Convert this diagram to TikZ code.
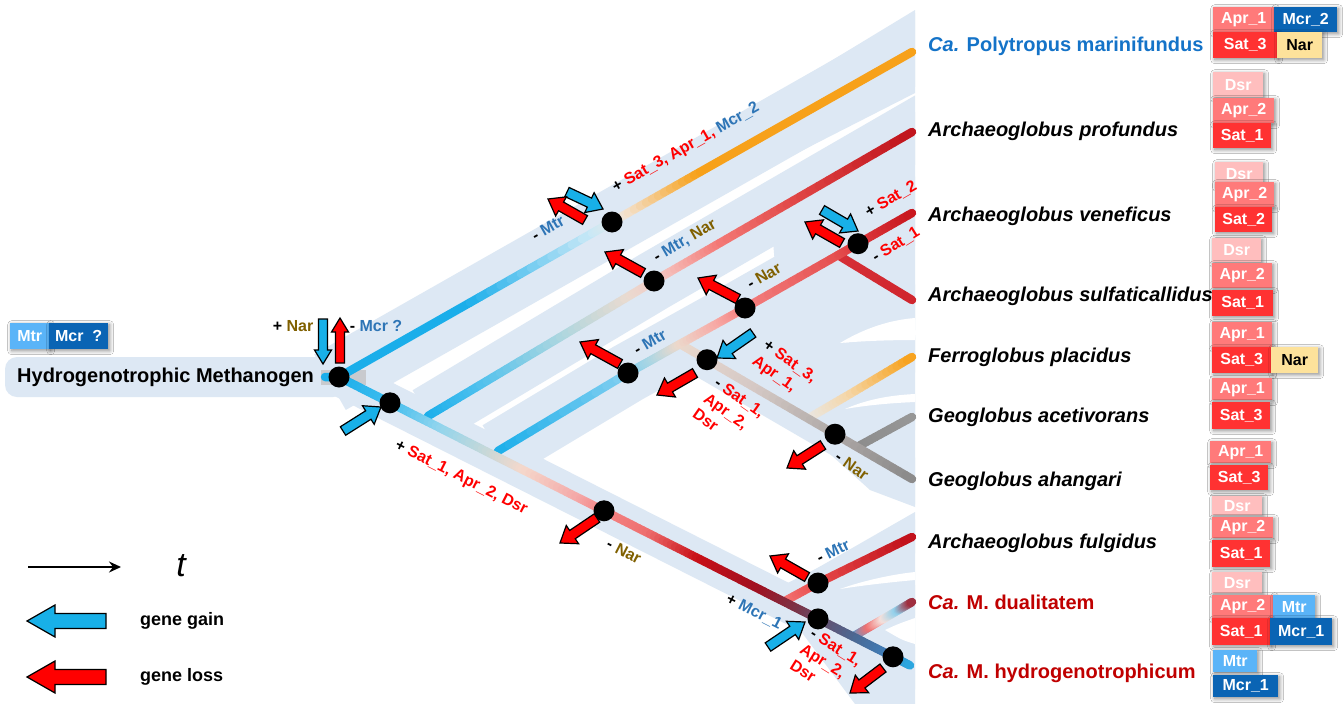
\documentclass[tikz,border=0pt]{standalone}
\usepackage{fontspec}
\setmainfont{Liberation Sans}
\usetikzlibrary{calc,arrows.meta,shadows.blur}

\definecolor{bandc}{RGB}{221,232,244}
\definecolor{cblue}{RGB}{26,174,234}
\definecolor{pB}{RGB}{200,232,246}
\definecolor{pN}{RGB}{222,232,236}
\definecolor{pC}{RGB}{243,226,208}
\definecolor{orng}{RGB}{247,161,26}
\definecolor{qB}{RGB}{76,192,238}
\definecolor{qC}{RGB}{169,214,224}
\definecolor{qD}{RGB}{234,219,208}
\definecolor{qN}{RGB}{240,205,200}
\definecolor{qE}{RGB}{245,190,186}
\definecolor{qF}{RGB}{244,123,120}
\definecolor{qG}{RGB}{224,69,69}
\definecolor{dredE}{RGB}{192,20,28}
\definecolor{vB}{RGB}{128,206,240}
\definecolor{vC}{RGB}{170,214,228}
\definecolor{vD}{RGB}{236,217,204}
\definecolor{vE}{RGB}{247,168,164}
\definecolor{vF}{RGB}{244,128,128}
\definecolor{vG}{RGB}{229,80,80}
\definecolor{vH}{RGB}{222,60,64}
\definecolor{vI}{RGB}{200,22,30}
\definecolor{sA}{RGB}{214,48,56}
\definecolor{sB}{RGB}{208,38,46}
\definecolor{gB}{RGB}{226,212,204}
\definecolor{gC}{RGB}{212,200,196}
\definecolor{gD}{RGB}{176,170,168}
\definecolor{gE}{RGB}{138,138,138}
\definecolor{fA}{RGB}{232,232,232}
\definecolor{fB}{RGB}{245,215,170}
\definecolor{aA}{RGB}{140,140,140}
\definecolor{aB}{RGB}{150,150,150}
\definecolor{mB}{RGB}{60,188,238}
\definecolor{mC}{RGB}{142,212,238}
\definecolor{mD}{RGB}{200,216,216}
\definecolor{mE}{RGB}{245,216,204}
\definecolor{mF}{RGB}{244,168,168}
\definecolor{mG}{RGB}{244,134,134}
\definecolor{mH}{RGB}{238,110,110}
\definecolor{mI}{RGB}{200,16,24}
\definecolor{mJ}{RGB}{160,16,32}
\definecolor{mK}{RGB}{122,52,72}
\definecolor{mL}{RGB}{106,74,102}
\definecolor{mM}{RGB}{74,106,150}
\definecolor{mN}{RGB}{61,128,189}
\definecolor{mO}{RGB}{42,168,224}
\definecolor{uA}{RGB}{245,120,120}
\definecolor{uB}{RGB}{232,76,76}
\definecolor{uC}{RGB}{192,16,26}
\definecolor{dA}{RGB}{70,160,220}
\definecolor{dB}{RGB}{240,112,112}
\definecolor{dC}{RGB}{245,225,220}
\definecolor{dD}{RGB}{144,208,236}
\definecolor{dE}{RGB}{160,40,56}
\definecolor{txtblue}{RGB}{46,117,182}
\definecolor{txtred}{RGB}{255,0,0}
\definecolor{nar}{RGB}{128,96,0}
\definecolor{spblue}{RGB}{20,115,200}
\definecolor{spred}{RGB}{192,0,0}
\definecolor{arrblue}{RGB}{24,176,232}
\definecolor{arrred}{RGB}{255,0,0}
\definecolor{bapr}{RGB}{255,122,122}
\definecolor{bsat}{RGB}{255,50,50}
\definecolor{bdsr}{RGB}{255,190,190}
\definecolor{bmtr}{RGB}{90,180,248}
\definecolor{bmcr}{RGB}{10,100,180}
\definecolor{bnar}{RGB}{253,226,155}
\definecolor{rootgray}{RGB}{200,202,206}

\newcommand{\gseg}[4]{%
  \foreach \k in {0,...,11}{%
    \pgfmathsetmacro{\pa}{\k/12}%
    \pgfmathsetmacro{\pb}{(\k+1)/12}%
    \pgfmathtruncatemacro{\pc}{100-(\k+0.5)*100/12}%
    \draw[branch, draw={#3!\pc!#4}] ($(#1)!\pa!(#2)$) -- ($(#1)!\pb!(#2)$);
  }}

\newcommand{\blockarr}[8]{%
  \pgfmathsetmacro{\bdx}{#3-(#1)}%
  \pgfmathsetmacro{\bdy}{#4-(#2)}%
  \pgfmathsetmacro{\bang}{atan2(-(\bdy),\bdx)}%
  \pgfmathsetmacro{\blen}{veclen(\bdx,\bdy)}%
  \pgfmathsetmacro{\bneck}{\blen-#8}%
  \begin{scope}[shift={(#1,#2)}, rotate=\bang]
    \draw[arr, fill=#5] (0,-#6) -- (\bneck,-#6) -- (\bneck,-#7) -- (\blen,0) -- (\bneck,#7) -- (\bneck,#6) -- (0,#6) -- cycle;
  \end{scope}}

\newcommand{\gbx}[8]{\node[gb, fill=#6, text=#8, minimum width=#4pt, minimum height=#5pt] (#1) at (#2,#3) {#7};}

\begin{document}
\begin{tikzpicture}[x=1pt,y=-1pt,
  bandl/.style={draw=bandc, line cap=butt, line join=round},
  branch/.style={line width=8.5pt, line cap=round},
  dot/.style={circle, fill=black, minimum size=21pt, inner sep=0pt},
  lab/.style={font=\bfseries\fontsize{16}{19}\selectfont, inner sep=0pt, align=left},
  spec/.style={font=\bfseries\fontsize{20}{24}\selectfont, anchor=west, inner sep=0pt},
  specit/.style={spec, font=\bfseries\itshape\fontsize{20}{24}\selectfont},
  gb/.style={font=\bfseries\fontsize{16}{18}\selectfont, inner sep=0pt, anchor=north west,
     blur shadow={shadow blur steps=6, shadow xshift=1.5pt, shadow yshift=-1.5pt, shadow blur radius=4pt, shadow opacity=45}},
  arr/.style={draw=black, line width=1.2pt, line join=miter},
  legtxt/.style={font=\bfseries\fontsize{18}{20}\selectfont, anchor=west, inner sep=0pt},
]
\fill[white] (0,0) rectangle (1344,704);
\useasboundingbox (0,0) rectangle (1344,704);

% ---------- coordinates ----------
\coordinate (RS) at (325,377);
\coordinate (R) at (339,377);
\coordinate (P0) at (330,382.1);
\coordinate (P1) at (470,302.6);
\coordinate (P2) at (592,233.3);
\coordinate (NP) at (612,222);
\coordinate (P3) at (628,212.9);
\coordinate (P4) at (700,172);
\coordinate (EP) at (912,52);
\coordinate (Q0) at (428,416);
\coordinate (Q1) at (480,385);
\coordinate (Q2) at (560,337.2);
\coordinate (Q3) at (630,295.4);
\coordinate (NQ) at (654,281);
\coordinate (Q4) at (670,271.8);
\coordinate (Q5) at (720,242.9);
\coordinate (Q6) at (800,196.7);
\coordinate (EQ) at (912,132);
\coordinate (V0) at (498,451);
\coordinate (NV1) at (628,373);
\coordinate (V1) at (652,359.7);
\coordinate (J1) at (680,344);
\coordinate (V2) at (720,321.9);
\coordinate (NV2) at (745,308);
\coordinate (J2) at (838,255.1);
\coordinate (NV3) at (858,243.7);
\coordinate (EV) at (912,213);
\coordinate (ES) at (912,300);
\coordinate (NG1) at (707,359.7);
\coordinate (G1) at (760,390.6);
\coordinate (J3) at (808,418.5);
\coordinate (NG2) at (835,434.2);
\coordinate (J4) at (857,447);
\coordinate (EG) at (912,479);
\coordinate (F1) at (850,394);
\coordinate (EF) at (912,357);
\coordinate (EA) at (912,417);
\coordinate (N1) at (390,402.8);
\coordinate (M1) at (440,428.0);
\coordinate (M2) at (490,453.3);
\coordinate (M3) at (525,470.9);
\coordinate (M4) at (580,498.7);
\coordinate (NL1) at (604,510.8);
\coordinate (M5) at (650,534.1);
\coordinate (M6) at (700,559.3);
\coordinate (M7) at (760,589.6);
\coordinate (M8) at (800,609.8);
\coordinate (NM) at (818,618.9);
\coordinate (M9) at (860,640.1);
\coordinate (NH) at (893,656.8);
\coordinate (EL) at (910,665.4);
\coordinate (U0) at (785,601);
\coordinate (NF) at (818,583);
\coordinate (EU) at (912,537);
\coordinate (D0) at (853,636.6);
\coordinate (D1) at (870,626.7);
\coordinate (D2) at (884,618.5);
\coordinate (D3) at (898,610.3);
\coordinate (ED) at (912,602);
\coordinate (XP) at (1000,1.7);
\coordinate (XQ) at (1000,81);
\coordinate (XV) at (1000,163);
\coordinate (XL) at (1000,710.8);
\coordinate (XG) at (1000,530.2);
\coordinate (XS) at (1000,353.4);
\coordinate (XF) at (1000,305);
\coordinate (XA) at (1000,369);
\coordinate (XU) at (1000,494);
\coordinate (XD) at (1000,550.5);

% ---------- pale bands ----------
\begin{scope}
\clip (0,0) rectangle (915,704);
\fill[bandc, rounded corners=12pt] (5,357) rectangle (345,397);
\draw[bandl, line width=64pt] (P0) -- (XP);
\draw[bandl, line width=38pt] (R) -- (XL);
\draw[bandl, line width=60pt] (Q0) -- (NQ) -- (XQ);
\draw[bandl, line width=60pt] (V0) -- (NV1) -- (NV2) -- (XV);
\draw[bandl, line width=40pt] (J1) -- (XG);
\draw[bandl, line width=30pt] (J2) -- (XS);
\draw[bandl, line width=30pt] (J3) -- (XF);
\draw[bandl, line width=26pt] (J4) -- (XA);
\draw[bandl, line width=30pt] (U0) -- (XU);
\draw[bandl, line width=26pt] (D0) -- (XD);
\fill[bandc] (760,104) -- (915,10) -- (915,93) -- (760,172) -- cycle;
\fill[bandc] (770,205) -- (915,112) -- (915,330) -- (842,343) -- (780,325) -- cycle;
\fill[bandc] (J1) -- (833,258) -- (842,343) -- (J3) -- cycle;
\fill[bandc] (795,415) -- (842,343) -- (915,335) -- (915,507) -- (870,490) -- (820,445) -- cycle;
\fill[bandc] (800,578) -- (915,512) -- (915,704) -- (855,704) -- (800,630) -- cycle;
\fill[white] (840,343) .. controls (865,328) and (890,320) .. (915,318) -- (915,340) .. controls (890,340) and (862,341) .. (840,343) -- cycle;
\fill[white] (845,409) .. controls (870,398) and (895,395) .. (915,394) -- (915,402) .. controls (892,403) and (868,405) .. (845,409) -- cycle;
\fill[white] (840,589) .. controls (865,580) and (895,574) .. (915,572) -- (915,580) .. controls (893,582) and (865,585) .. (840,589) -- cycle;
\fill[white] (885,630) .. controls (898,624) .. (915,618) -- (915,644) .. controls (902,640) .. (885,630) -- cycle;
\end{scope}
\fill[rootgray] (321,370) rectangle (366,385);

% ---------- branches ----------
\gseg{J3}{F1}{fA}{fB}
\gseg{F1}{EF}{fB}{orng}
\gseg{J4}{EA}{aA}{aB}
\gseg{J1}{NG1}{vD}{gB}
\gseg{NG1}{G1}{gB}{gC}
\gseg{G1}{NG2}{gC}{gD}
\gseg{NG2}{EG}{gD}{gE}
\gseg{J2}{ES}{sA}{sB}
\gseg{V0}{NV1}{cblue}{vB}
\gseg{NV1}{V1}{vB}{vC}
\gseg{V1}{J1}{vC}{vD}
\gseg{J1}{V2}{vD}{vE}
\gseg{V2}{NV2}{vE}{vF}
\gseg{NV2}{J2}{vF}{vG}
\gseg{J2}{NV3}{vG}{vH}
\gseg{NV3}{EV}{vH}{vI}
\gseg{Q0}{Q1}{cblue}{qB}
\gseg{Q1}{Q2}{qB}{qC}
\gseg{Q2}{Q3}{qC}{qD}
\gseg{Q3}{NQ}{qD}{qN}
\gseg{NQ}{Q4}{qN}{qE}
\gseg{Q4}{Q5}{qE}{qF}
\gseg{Q5}{Q6}{qF}{qG}
\gseg{Q6}{EQ}{qG}{dredE}
\gseg{U0}{NF}{uA}{uB}
\gseg{NF}{EU}{uB}{uC}
\gseg{D0}{D1}{dA}{dB}
\gseg{D1}{D2}{dB}{dC}
\gseg{D2}{D3}{dC}{dD}
\gseg{D3}{ED}{dD}{dE}
\draw[branch, cblue] (RS) -- (R) -- (P1);
\gseg{P1}{P2}{cblue}{pB}
\gseg{P2}{NP}{pB}{pN}
\gseg{NP}{P3}{pN}{pC}
\gseg{P3}{P4}{pC}{orng}
\draw[branch, orng] (P4) -- (EP);
\gseg{R}{N1}{cblue}{mB}
\gseg{N1}{M1}{mB}{mC}
\gseg{M1}{M2}{mC}{mD}
\gseg{M2}{M3}{mD}{mE}
\gseg{M3}{M4}{mE}{mF}
\gseg{M4}{NL1}{mF}{mG}
\gseg{NL1}{M5}{mG}{mH}
\gseg{M5}{M6}{mH}{mI}
\gseg{M6}{M7}{mI}{mJ}
\gseg{M7}{M8}{mJ}{mK}
\gseg{M8}{NM}{mK}{mL}
\gseg{NM}{M9}{mL}{mM}
\gseg{M9}{NH}{mM}{mN}
\gseg{NH}{EL}{mN}{mO}

% ---------- event nodes ----------
\node[dot] (nR) at (R) {};
\node[dot] (nN1) at (N1) {};
\node[dot] (nNP) at (NP) {};
\node[dot] (nNQ) at (NQ) {};
\node[dot] (nNV1) at (NV1) {};
\node[dot] (nNV2) at (NV2) {};
\node[dot] (nNV3) at (NV3) {};
\node[dot] (nNG1) at (NG1) {};
\node[dot] (nNG2) at (NG2) {};
\node[dot] (nNL1) at (NL1) {};
\node[dot] (nNF) at (NF) {};
\node[dot] (nNM) at (NM) {};
\node[dot] (nNH) at (NH) {};

% ---------- gain / loss arrows ----------
\blockarr{323}{319}{323}{364}{arrblue}{4.5}{8.5}{14}
\blockarr{340}{363}{340}{318}{arrred}{4.5}{8.5}{14}
\blockarr{343}{431}{381}{407}{arrblue}{5}{11}{15}
\blockarr{567}{192}{603}{209}{arrblue}{5}{11}{15}
\blockarr{585}{220}{548}{199}{arrred}{5}{11}{15}
\blockarr{643}{273}{605}{252}{arrred}{5}{11}{15}
\blockarr{620}{364}{580}{342}{arrred}{5}{11}{15}
\blockarr{738}{299}{698}{278}{arrred}{5}{11}{15}
\blockarr{822}{210}{858}{231}{arrblue}{5}{11}{15}
\blockarr{842}{243}{805}{222}{arrred}{5}{11}{15}
\blockarr{753}{333}{717}{358}{arrblue}{5}{11}{15}
\blockarr{695}{373}{657}{395}{arrred}{5}{11}{15}
\blockarr{823}{445}{787}{468}{arrred}{5}{11}{15}
\blockarr{597}{518}{560}{543}{arrred}{5}{11}{15}
\blockarr{807}{577}{770}{556}{arrred}{5}{11}{15}
\blockarr{768}{647}{805}{622}{arrblue}{5}{11}{15}
\blockarr{883}{668}{850}{693}{arrred}{5}{11}{15}

% ---------- event labels ----------
\node[lab] (l1) at (293,326) {+ \textcolor{nar}{Nar}};
\node[lab] (l2) at (376,326) {- \textcolor{txtblue}{Mcr ?}};
\node[lab, rotate=29.6] (l3) at (548,228) {- \textcolor{txtblue}{Mtr}};
\node[lab, rotate=29.6, text=txtred] (l4) at (686,148) {\textcolor{black}{+} Sat\_3, Apr\_1, \textcolor{txtblue}{Mcr\_2}};
\node[lab, rotate=30] (l5) at (685,241) {- \textcolor{txtblue}{Mtr,}\ \textcolor{nar}{Nar}};
\node[lab, rotate=30] (l6) at (764,276) {- \textcolor{nar}{Nar}};
\node[lab, rotate=30, text=txtred] (l7) at (891,199) {\textcolor{black}{+} Sat\_2};
\node[lab, rotate=32, text=txtred] (l8) at (896,245) {\textcolor{black}{-} Sat\_1};
\node[lab, rotate=30] (l9) at (650,342) {- \textcolor{txtblue}{Mtr}};
\node[lab, rotate=-35, text=txtred] (l10) at (784,370) {\textcolor{black}{+} Sat\_3,\\Apr\_1,};
\node[lab, rotate=-35, text=txtred] (l11) at (729,413) {\textcolor{black}{-} Sat\_1,\\Apr\_2,\\Dsr};
\node[lab, rotate=-35] (l12) at (852,466) {- \textcolor{nar}{Nar}};
\node[lab, rotate=-27, text=txtred] (l13) at (461,478) {\textcolor{black}{+} Sat\_1, Apr\_2, Dsr};
\node[lab, rotate=-27] (l14) at (624,551) {- \textcolor{nar}{Nar}};
\node[lab, rotate=26] (l15) at (833,551) {- \textcolor{txtblue}{Mtr}};
\node[lab, rotate=-27] (l16) at (754,612) {+ \textcolor{txtblue}{Mcr\_1}};
\node[lab, rotate=-32, text=txtred] (l17) at (826,663) {\textcolor{black}{-} Sat\_1,\\Apr\_2,\\Dsr};

% ---------- root label ----------
\node[spec] (root) at (17,377) {Hydrogenotrophic Methanogen};

% ---------- species ----------
\node[spec, text=spblue] (s1) at (928,46) {\textit{Ca.} Polytropus marinifundus};
\node[specit] (s2) at (928,131) {Archaeoglobus profundus};
\node[specit] (s3) at (928,216) {Archaeoglobus veneficus};
\node[specit] (s4) at (928,296) {Archaeoglobus sulfaticallidus};
\node[specit] (s5) at (928,357) {Ferroglobus placidus};
\node[specit] (s6) at (928,417) {Geoglobus acetivorans};
\node[specit] (s7) at (928,481) {Geoglobus ahangari};
\node[specit] (s8) at (928,543) {Archaeoglobus fulgidus};
\node[spec, text=spred] (s9) at (928,602) {\textit{Ca.} M. dualitatem};
\node[spec, text=spred] (s10) at (928,673) {\textit{Ca.} M. hydrogenotrophicum};

% ---------- gene boxes ----------
\gbx{r1}{10}{323}{39}{26}{bmtr}{Mtr}{white}
\gbx{r2}{49}{323}{59}{26}{bmcr}{Mcr ~?}{white}
\gbx{a1}{1213}{7}{61}{25}{bapr}{Apr\_1}{white}
\gbx{a2}{1274}{7}{63}{25}{bmcr}{Mcr\_2}{white}
\gbx{a3}{1213}{32}{64}{26}{bsat}{Sat\_3}{white}
\gbx{a4}{1277}{32}{45}{26}{bnar}{Nar}{black}
\gbx{b1}{1213}{72}{50}{25}{bdsr}{Dsr}{white}
\gbx{b2}{1213}{98}{61}{25}{bapr}{Apr\_2}{white}
\gbx{b3}{1213}{123}{58}{25}{bsat}{Sat\_1}{white}
\gbx{c1}{1215}{162}{48}{24}{bdsr}{Dsr}{white}
\gbx{c2}{1215}{182}{59}{25}{bapr}{Apr\_2}{white}
\gbx{c3}{1215}{207}{57}{25}{bsat}{Sat\_2}{white}
\gbx{d1}{1212}{238}{49}{24}{bdsr}{Dsr}{white}
\gbx{d2}{1212}{263}{60}{25}{bapr}{Apr\_2}{white}
\gbx{d3}{1212}{290}{61}{26}{bsat}{Sat\_1}{white}
\gbx{e1}{1212}{322}{60}{25}{bapr}{Apr\_1}{white}
\gbx{e2}{1212}{347}{59}{26}{bsat}{Sat\_3}{white}
\gbx{e3}{1271}{347}{47}{26}{bnar}{Nar}{black}
\gbx{f1}{1212}{378}{60}{22}{bapr}{Apr\_1}{white}
\gbx{f2}{1212}{402}{58}{27}{bsat}{Sat\_3}{white}
\gbx{g1}{1210}{441}{61}{22}{bapr}{Apr\_1}{white}
\gbx{g2}{1210}{465}{58}{25}{bsat}{Sat\_3}{white}
\gbx{h1}{1212}{496}{50}{19}{bdsr}{Dsr}{white}
\gbx{h2}{1212}{517}{61}{21}{bapr}{Apr\_2}{white}
\gbx{h3}{1212}{540}{58}{27}{bsat}{Sat\_1}{white}
\gbx{i1}{1212}{572}{50}{21}{bdsr}{Dsr}{white}
\gbx{i2}{1212}{595}{61}{23}{bapr}{Apr\_2}{white}
\gbx{i3}{1273}{595}{42}{23}{bmtr}{Mtr}{white}
\gbx{i4}{1212}{618}{58}{27}{bsat}{Sat\_1}{white}
\gbx{i5}{1270}{618}{62}{27}{bmcr}{Mcr\_1}{white}
\gbx{j1}{1213}{650}{44}{22}{bmtr}{Mtr}{white}
\gbx{j2}{1213}{675}{65}{22}{bmcr}{Mcr\_1}{white}

% ---------- legend ----------
\coordinate (lt1) at (28,567);
\coordinate (lt2) at (121,567);
\draw[line width=1.8pt, -{Stealth[length=12pt,width=11pt,inset=4pt]}] (lt1) -- (lt2);
\node[font=\itshape\fontsize{34}{36}\selectfont, inner sep=0pt] (tlab) at (181,566) {t};
\blockarr{106}{621}{27}{621}{arrblue}{7.5}{16}{28}
\node[legtxt] (gg) at (140,621) {gene gain};
\blockarr{106}{677}{27}{677}{arrred}{7.5}{16}{28}
\node[legtxt] (gl) at (140,677) {gene loss};
\end{tikzpicture}
\end{document}
